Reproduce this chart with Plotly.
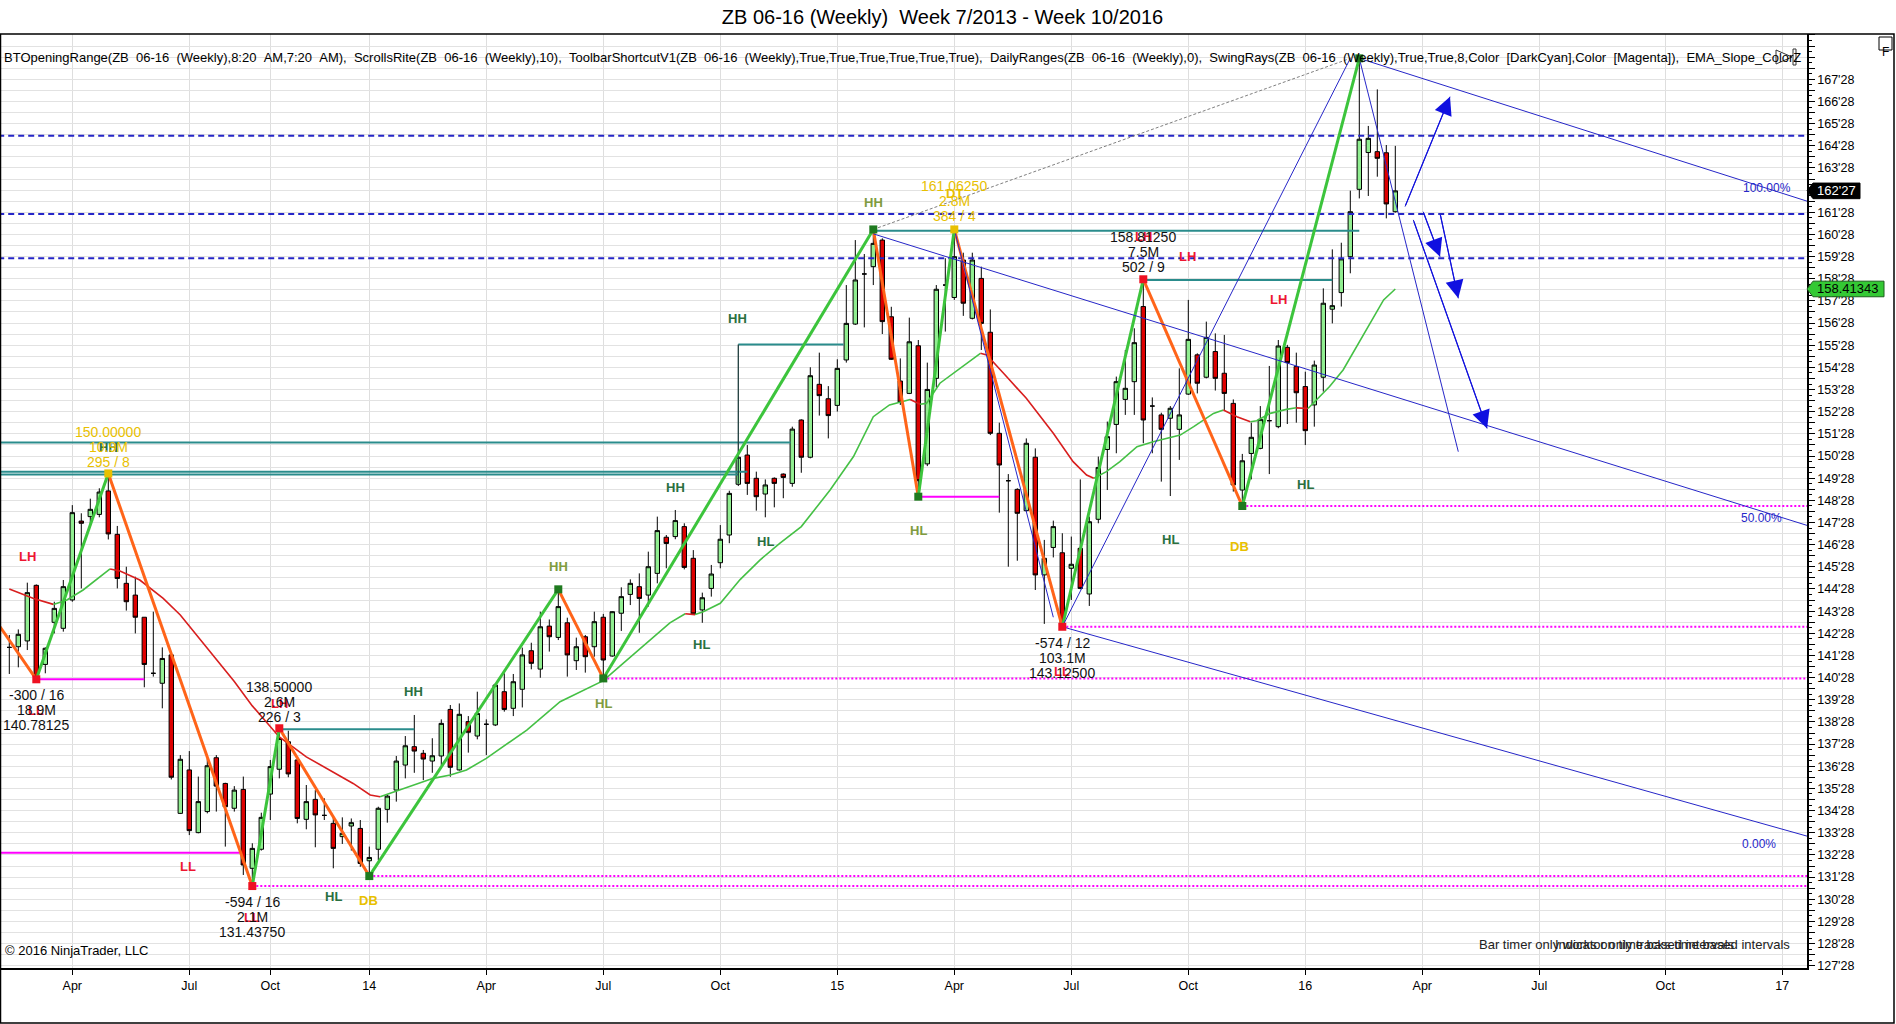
import plotly.graph_objects as go

FONT = "Arial, 'Liberation Sans', sans-serif"
W, H = 1896, 1024
PLOT_L, PLOT_R, PLOT_T, PLOT_B = 0, 1807, 34, 968
BAR_PX, FIRST_BAR_PX = 9.0, 9.3
X_RANGE = [(PLOT_L - FIRST_BAR_PX) / BAR_PX, (PLOT_R - FIRST_BAR_PX) / BAR_PX]
Y_RANGE = [127.772, 169.919]
PX_PER_PT = (PLOT_B - PLOT_T) / (Y_RANGE[1] - Y_RANGE[0])
LEFT_EDGE, RIGHT_EDGE = X_RANGE[0] - 0.2, X_RANGE[1] + 0.2

# ---- weekly bars, index 0 = first visible week ----
opens = [
    142.24, 142.27, 142.53, 145.04, 141.47, 143.37, 143.10, 144.38, 147.94, 148.14,
    148.24, 149.30, 147.34, 145.13, 144.60, 143.60, 141.07, 140.62, 141.90, 134.75,
    136.71, 133.88, 134.83, 137.26, 136.10, 134.98, 135.83, 132.27, 133.13, 135.62,
    136.74, 137.98, 137.16, 134.48, 135.38, 134.66, 134.30, 133.70, 134.18, 134.07,
    132.61, 133.13, 134.93, 135.80, 136.93, 137.76, 137.46, 137.11, 137.34, 139.44,
    136.71, 138.89, 138.24, 138.77, 138.74, 140.24, 139.49, 140.35, 142.09, 141.26,
    143.20, 142.69, 143.35, 141.64, 142.72, 142.27, 143.60, 141.85, 143.78, 144.63,
    144.98, 144.60, 145.58, 147.21, 147.24, 147.69, 146.26, 143.93, 144.90, 146.06,
    147.31, 149.60, 150.92, 149.87, 149.16, 149.87, 150.06, 149.64, 152.50, 150.82,
    154.11, 153.46, 153.16, 155.21, 156.83, 159.09, 159.42, 160.62, 157.16, 154.26,
    153.70, 155.85, 150.52, 154.38, 158.59, 158.03, 159.72, 157.09, 158.89, 156.46,
    151.90, 149.76, 149.37, 148.41, 150.82, 145.51, 146.75, 146.51, 145.81, 146.71,
    144.65, 148.02, 151.17, 152.30, 153.43, 154.23, 157.62, 153.13, 152.73, 152.58,
    152.08, 153.67, 155.44, 154.43, 155.59, 154.61, 153.25, 149.34, 150.99, 151.22,
    152.47, 152.20, 155.78, 154.91, 154.01, 153.18, 154.43, 157.50, 158.25, 159.87,
    162.91, 164.57, 164.61, 164.56, 161.90,
]
highs = [
    142.80, 143.05, 145.16, 145.08, 142.24, 144.30, 145.28, 148.66, 148.29, 148.95,
    149.42, 150.09, 147.72, 145.88, 145.43, 143.60, 143.85, 142.24, 141.90, 137.38,
    137.56, 136.41, 137.23, 137.38, 136.13, 135.98, 136.41, 133.40, 134.78, 137.16,
    138.59, 138.48, 137.19, 136.03, 135.80, 135.43, 134.60, 134.57, 134.52, 134.45,
    133.25, 135.05, 135.58, 137.34, 138.24, 139.19, 137.61, 138.14, 138.99, 139.64,
    139.71, 139.14, 140.24, 138.99, 140.62, 141.07, 141.04, 142.23, 142.45, 143.85,
    143.50, 144.86, 143.58, 142.68, 142.80, 143.85, 143.75, 143.87, 144.95, 145.31,
    145.58, 146.56, 148.14, 147.31, 148.44, 147.84, 146.63, 144.71, 145.96, 147.76,
    149.31, 150.85, 151.37, 150.17, 149.82, 149.91, 150.09, 152.20, 152.53, 154.88,
    155.54, 154.03, 155.24, 158.59, 160.62, 159.99, 161.10, 160.70, 157.61, 155.28,
    157.12, 156.11, 155.09, 158.59, 159.80, 161.10, 160.05, 160.05, 159.42, 157.49,
    152.38, 150.06, 149.42, 151.67, 151.22, 147.09, 147.96, 147.39, 147.24, 149.82,
    148.14, 150.85, 152.43, 154.46, 155.66, 156.64, 158.85, 153.52, 152.83, 153.13,
    154.83, 157.92, 155.51, 156.94, 156.41, 156.34, 153.43, 150.97, 152.38, 153.13,
    154.94, 156.11, 155.89, 155.54, 154.68, 155.18, 158.44, 160.20, 160.50, 162.85,
    168.82, 165.77, 167.42, 164.91, 164.87,
]
lows = [
    141.04, 141.34, 142.12, 140.80, 141.07, 142.87, 142.95, 144.30, 144.90, 147.72,
    148.11, 147.11, 144.90, 143.90, 142.87, 140.44, 140.92, 139.49, 136.28, 134.72,
    133.77, 133.85, 134.75, 134.83, 133.25, 134.83, 131.97, 131.47, 133.07, 134.45,
    136.33, 136.38, 134.30, 134.03, 133.22, 134.45, 132.27, 133.37, 133.07, 132.34,
    131.92, 132.64, 134.33, 135.28, 136.33, 136.58, 136.25, 136.58, 136.93, 136.40,
    136.68, 137.49, 138.09, 137.38, 138.69, 139.34, 139.14, 139.53, 141.25, 140.87,
    142.05, 142.57, 140.92, 141.22, 141.10, 141.82, 140.84, 141.82, 142.98, 144.15,
    142.90, 144.08, 145.13, 145.81, 147.12, 145.76, 143.70, 143.35, 144.53, 145.81,
    146.94, 149.52, 149.12, 148.41, 148.11, 148.56, 148.97, 149.49, 150.12, 150.77,
    152.70, 151.67, 152.88, 155.09, 156.79, 156.68, 158.59, 156.38, 155.21, 153.18,
    153.67, 149.04, 150.42, 153.97, 156.49, 157.92, 157.20, 157.04, 155.66, 151.82,
    148.32, 145.88, 146.15, 148.36, 144.83, 143.30, 146.30, 143.17, 144.38, 144.86,
    144.11, 147.84, 149.34, 151.00, 152.73, 152.73, 151.45, 151.00, 149.72, 149.07,
    150.70, 153.63, 153.70, 154.38, 153.83, 152.95, 149.27, 148.62, 149.82, 151.18,
    150.06, 152.13, 152.32, 152.38, 151.37, 152.20, 153.78, 156.86, 157.62, 159.12,
    162.50, 162.61, 163.48, 161.60, 161.86,
]
closes = [
    142.24, 142.83, 144.71, 140.92, 142.20, 144.00, 144.98, 148.32, 147.84, 148.47,
    149.25, 147.36, 145.35, 144.30, 143.60, 141.47, 141.07, 141.74, 136.38, 137.19,
    133.97, 135.28, 136.90, 135.98, 135.05, 135.80, 132.42, 133.17, 134.57, 136.86,
    138.13, 136.53, 134.52, 135.28, 134.68, 134.66, 133.17, 133.85, 134.33, 132.49,
    132.76, 134.98, 135.53, 137.11, 137.80, 137.56, 137.20, 137.35, 138.81, 136.83,
    139.22, 138.41, 139.26, 138.77, 140.54, 139.44, 140.69, 141.90, 141.52, 143.17,
    142.72, 144.08, 141.90, 142.27, 141.82, 143.40, 141.67, 143.85, 144.53, 145.13,
    144.45, 145.88, 147.51, 146.93, 147.96, 145.85, 143.75, 144.48, 145.55, 147.12,
    149.19, 150.82, 149.64, 149.04, 149.57, 149.64, 149.91, 152.09, 150.82, 154.50,
    153.60, 152.70, 154.83, 156.86, 158.82, 159.09, 160.47, 156.94, 155.24, 153.30,
    156.03, 149.76, 153.88, 158.40, 158.59, 159.87, 157.77, 159.72, 156.86, 151.90,
    150.47, 149.76, 148.29, 151.45, 145.51, 146.26, 147.69, 143.25, 145.99, 144.90,
    147.91, 150.36, 151.75, 154.23, 153.93, 155.99, 152.50, 153.13, 152.08, 153.03,
    152.73, 156.14, 154.16, 156.23, 154.38, 153.70, 149.57, 150.66, 151.72, 152.53,
    152.47, 155.84, 155.09, 153.73, 152.02, 154.98, 157.77, 157.66, 159.77, 161.90,
    165.17, 165.21, 164.31, 162.25, 162.84,
]

x_ticks = [7, 20, 29, 40, 53, 66, 79, 92, 105, 118, 131, 144, 157, 170, 184, 197]
x_tick_text = ["Apr", "Jul", "Oct", "14", "Apr", "Jul", "Oct", "15",
               "Apr", "Jul", "Oct", "16", "Apr", "Jul", "Oct", "17"]

# ---- slope coloured EMA (read at sample bars) ----
ema_i = [0, 2.7, 4.9, 6.4, 8.2, 10.1, 11.2, 12.3, 14.5, 17.1, 19, 21, 23, 25, 27, 30, 33, 36,
         38.2, 40.1, 41.2, 42.9, 44.9, 47.1, 49, 50.8, 53, 55.6, 57.5, 61.2, 64.1, 66, 68.2,
         71.2, 73.4, 75.1, 76.2, 77.1, 79, 81.2, 83.4, 85.6, 88, 91.2, 93.8, 96, 97.8, 100.1,
         101.2, 101.9, 103.4, 105.6, 107.9, 108.6, 110.8, 113, 116, 118.2, 119.7, 120.5, 121.9,
         123.4, 125.3, 127.1, 130.1, 131.6, 133.8, 134.9, 136.4, 137.9, 138.6, 140.1, 141.9,
         143, 144.3, 146.7, 148.2, 149.7, 151.2, 152.7, 154]
ema_p = [144.87, 144.45, 144.18, 144.38, 144.83, 145.43, 145.78, 145.69, 145.28, 144.45, 143.7,
         142.7, 141.7, 140.7, 139.6, 138.2, 137.3, 136.6, 136.1, 135.58, 135.5, 135.73, 136.03,
         136.33, 136.48, 136.71, 137.23, 137.98, 138.51, 139.79, 140.35, 140.74, 141.52, 142.57,
         143.35, 143.76, 143.72, 143.85, 144.23, 145.3, 146.18, 146.93, 147.69, 149.34, 150.85,
         152.65, 153.18, 153.43, 153.21, 153.25, 154.16, 154.83, 155.51, 155.43, 154.46, 153.48,
         151.9, 150.62, 150.02, 149.87, 150.17, 150.62, 151.3, 151.52, 151.82, 152.2, 152.8,
         152.95, 152.65, 152.42, 152.47, 152.8, 152.98, 153.05, 153.02, 154.01, 154.76, 155.81,
         156.86, 157.92, 158.41343]

# ---- swing points ----
swing_i = [-1.03, 3, 11, 27, 30, 40, 61, 66, 96, 101, 105, 117, 126, 137, 150]
swing_p = [143.17, 140.80, 150.09, 131.47, 138.59, 131.92, 144.86, 140.84, 161.10, 149.04,
           161.10, 143.17, 158.85, 148.62, 168.82]
swing_dot = [None, "red", "yellow", "red", "red", "green", "green", "green", "green", "green",
             "yellow", "red", "red", "green", "green"]

# ---- swing rays (start i, start p, end i, end p) ----
ray_i0 = [96, 150, 117, 117, 150, 105]
ray_p0 = [160.9, 168.82, 143.17, 143.17, 168.82, 161.10]
ray_i1 = [RIGHT_EDGE, RIGHT_EDGE, RIGHT_EDGE, 149, 161.0, 116.0]
ray_p1 = [147.72, 162.35, 133.7, 168.82, 151.07, 143.6]
dash_ray = [96, 161.10, 149, 168.82]

arrow_i0 = [155.08, 157.1, 158.97, 156.0]
arrow_p0 = [162.13, 161.9, 161.83, 161.53]
arrow_i1 = [160.08, 158.97, 161.0, 164.2]
arrow_p1 = [167.09, 159.87, 157.99, 152.12]

pct_text = ["100.00%", "50.00%", "0.00%"]
pct_i = [195.27, 194.69, 194.41]
pct_p = [162.96, 148.10, 133.37]

# ---- horizontal levels ----
teal_i0 = [LEFT_EDGE, LEFT_EDGE, LEFT_EDGE, 30, 81, 96, 126]
teal_i1 = [86.8, 82, 81, 45, 92.7, 150, 147]
teal_p = [151.49, 150.17, 150.04, 138.55, 155.91, 161.04, 158.82]
step_line = [81, 149.64, 155.91]

mag_i0 = [3, LEFT_EDGE, 101]
mag_i1 = [15, 25.6, 110]
mag_p = [140.80, 132.97, 149.04]
mag_dot_i0 = [27, 40, 66, 117, 137]
mag_dot_p = [131.47, 131.92, 140.84, 143.17, 148.62]

blue_dash_p = [165.33, 161.80, 159.80]

# ---- pivot tags ----
tag_text = ["LH", "LL", "HH", "LH", "LL", "LL", "HL", "DB", "HH", "HH", "HL", "HH", "HL", "HH",
            "HL", "HH", "DT", "HL", "LL", "LH", "LH", "LH", "HL", "HL", "DB"]
tag_i = [1.97, 3.0, 11.0, 30.0, 19.9, 27.0, 36.0, 39.9, 44.9, 61.0, 66.0, 74.0, 76.9, 80.9,
         84.0, 96.0, 105.0, 101.0, 117.0, 126.0, 130.9, 141.0, 144.0, 129.0, 136.7]
tag_p = [146.32, 139.37, 151.24, 139.73, 132.37, 130.07, 130.98, 130.80, 140.24, 145.88,
         139.72, 149.45, 142.35, 157.09, 147.01, 162.32, 162.70, 147.50, 141.15, 160.77,
         159.90, 157.92, 149.57, 147.09, 146.78]
tag_col = ["red", "red", "green", "red", "red", "red", "green", "yellow", "green", "pale",
           "pale", "green", "green", "green", "green", "pale", "yellow", "pale", "red", "red",
           "red", "red", "green", "green", "yellow"]

# ---- swing info stacks ----
stack_i = [3, 11, 30, 27, 105, 117, 126]
stack_top_p = [140.09, 151.96, 140.45, 130.75, 163.06, 142.42, 160.77]
stack_lines = [
    ["-300 / 16", "18.9M", "140.78125"],
    ["150.00000", "10.9M", "295 / 8"],
    ["138.50000", "2.6M", "226 / 3"],
    ["-594 / 16", "2.1M", "131.43750"],
    ["161.06250", "2.8M", "384 / 4"],
    ["-574 / 12", "103.1M", "143.12500"],
    ["158.81250", "7.5M", "502 / 9"],
]
stack_col = ["black", "yellow", "black", "black", "yellow", "black", "black"]

COLORS = {
    "red": "#ee1530", "green": "#2a7040", "yellow": "#e8c000", "pale": "#809c40",
    "black": "#111111",
}
UP_FILL, DOWN_FILL = "#90ee90", "#dd0000"
SWING_UP, SWING_DOWN = "#3cc43c", "#ff6419"
EMA_UP, EMA_DOWN = "#45c045", "#d81e1e"
BLUE = "#2626c8"
TEAL = "#2a8c8c"
MAGENTA = "#ff00ff"

indicator_line = (
    "BTOpeningRange(ZB  06-16  (Weekly),8:20  AM,7:20  AM),  ScrollsRite(ZB  06-16  (Weekly),10),  "
    "ToolbarShortcutV1(ZB  06-16  (Weekly),True,True,True,True,True,True),  "
    "DailyRanges(ZB  06-16  (Weekly),0),  SwingRays(ZB  06-16  (Weekly),True,True,8,Color  [DarkCyan],"
    "Color  [Magenta]),  EMA_Slope_ColorZ"
)


def px_x(px):
    return (px - PLOT_L) / (PLOT_R - PLOT_L)


def px_y(py):
    return (PLOT_B - py) / (PLOT_B - PLOT_T)


def _segments(fig, pairs, color, width, dash="solid"):
    xs, ys = [], []
    for x0, y0, x1, y1 in pairs:
        xs += [x0, x1, None]
        ys += [y0, y1, None]
    fig.add_trace(go.Scatter(x=xs, y=ys, mode="lines", hoverinfo="skip",
                             line={"color": color, "width": width, "dash": dash}))


fig = go.Figure()

# levels under the bars
_segments(fig, [(LEFT_EDGE, p, RIGHT_EDGE, p) for p in blue_dash_p], BLUE, 2, "6px,4px")
_segments(fig, list(zip(teal_i0, teal_p, teal_i1, teal_p)), TEAL, 2)
_segments(fig, [(step_line[0], step_line[1], step_line[0], step_line[2])], "#1e3c3c", 1.3)
_segments(fig, list(zip(mag_i0, mag_p, mag_i1, mag_p)), MAGENTA, 2)
_segments(fig, [(i0, p, RIGHT_EDGE, p) for i0, p in zip(mag_dot_i0, mag_dot_p)], MAGENTA, 2, "2px,2px")

# slope coloured EMA
run_x, run_y, run_col = [ema_i[0]], [ema_p[0]], None
for k in range(1, len(ema_i)):
    col = EMA_UP if ema_p[k] >= ema_p[k - 1] else EMA_DOWN
    if run_col is not None and col != run_col:
        fig.add_trace(go.Scatter(x=run_x, y=run_y, mode="lines", hoverinfo="skip",
                                 line={"color": run_col, "width": 1.6}))
        run_x, run_y = [ema_i[k - 1]], [ema_p[k - 1]]
    run_col = col
    run_x.append(ema_i[k])
    run_y.append(ema_p[k])
fig.add_trace(go.Scatter(x=run_x, y=run_y, mode="lines", hoverinfo="skip",
                         line={"color": run_col, "width": 1.6}))

fig.add_trace(go.Candlestick(
    x=list(range(len(opens))), open=opens, high=highs, low=lows, close=closes,
    increasing={"line": {"color": "black", "width": 1}, "fillcolor": UP_FILL},
    decreasing={"line": {"color": "black", "width": 1}, "fillcolor": DOWN_FILL},
    whiskerwidth=0, hoverinfo="skip",
))

# swing legs, rays
legs_up, legs_down = [], []
for k in range(len(swing_i) - 1):
    seg = (swing_i[k], swing_p[k], swing_i[k + 1], swing_p[k + 1])
    (legs_up if swing_p[k + 1] > swing_p[k] else legs_down).append(seg)
_segments(fig, legs_down, SWING_DOWN, 3)
_segments(fig, legs_up, SWING_UP, 3)
_segments(fig, [tuple(dash_ray)], "#808080", 1, "3px,2px")
_segments(fig, list(zip(ray_i0, ray_p0, ray_i1, ray_p1)), BLUE, 1)
_segments(fig, list(zip(arrow_i0, arrow_p0, arrow_i1, arrow_p1)), BLUE, 1)

dot_idx = [k for k, c in enumerate(swing_dot) if c]
fig.add_trace(go.Scatter(
    x=[swing_i[k] for k in dot_idx], y=[swing_p[k] for k in dot_idx], mode="markers",
    hoverinfo="skip",
    marker={"size": 8, "symbol": "square",
            "color": [{"green": "#1f7a1f", "red": "#ee1122", "yellow": "#e8c000"}[swing_dot[k]] for k in dot_idx],
            "line": {"width": 0}},
))

annotations = []
for t, i, p, c in zip(tag_text, tag_i, tag_p, tag_col):
    annotations.append(dict(x=i, y=p, text=f"<b>{t}</b>", showarrow=False,
                            font={"family": FONT, "size": 13, "color": COLORS[c]}))
line_step = 15 / PX_PER_PT
for i, p0, lines, c in zip(stack_i, stack_top_p, stack_lines, stack_col):
    for n, t in enumerate(lines):
        annotations.append(dict(x=i, y=p0 - n * line_step, text=t, showarrow=False,
                                font={"family": FONT, "size": 14, "color": COLORS[c]}))
for t, i, p in zip(pct_text, pct_i, pct_p):
    annotations.append(dict(x=i, y=p, text=t, showarrow=False,
                            font={"family": FONT, "size": 12, "color": BLUE}))
for i0, p0, i1, p1 in zip(arrow_i0, arrow_p0, arrow_i1, arrow_p1):
    annotations.append(dict(x=i1, y=p1, ax=i0, ay=p0, axref="x", ayref="y", text="",
                            showarrow=True, arrowhead=2, arrowsize=3, arrowwidth=1.2,
                            arrowcolor="#1010e0", standoff=0))

# price tags on the axis
last_close = closes[-1]
close_txt = f"{int(last_close)}'{round((last_close % 1) * 32):02d}"
ema_last = ema_p[-1]
half = 7.8 / PX_PER_PT
shapes = [
    dict(type="path", xref="paper", yref="y", layer="above",
         path=(f"M 1,{last_close} L {px_x(1813)},{last_close + half} L {px_x(1860)},{last_close + half} "
               f"L {px_x(1860)},{last_close - half} L {px_x(1813)},{last_close - half} Z"),
         fillcolor="black", line={"color": "black", "width": 1}),
    dict(type="path", xref="paper", yref="y", layer="above",
         path=(f"M 1,{ema_last} L {px_x(1813)},{ema_last + half} L {px_x(1884)},{ema_last + half} "
               f"L {px_x(1884)},{ema_last - half} L {px_x(1813)},{ema_last - half} Z"),
         fillcolor="#34c934", line={"color": "#1d5e1d", "width": 1}),
    # outer frame
    dict(type="rect", xref="paper", yref="paper", x0=px_x(0.5), x1=px_x(1894), y0=px_y(1023),
         y1=px_y(34), line={"color": "black", "width": 1.5}, layer="above"),
    # scroll-to-end icon and F box
    dict(type="path", xref="paper", yref="paper", layer="above",
         path=f"M {px_x(1776)},{px_y(50)} L {px_x(1792)},{px_y(57)} L {px_x(1776)},{px_y(64)} Z",
         fillcolor="white", line={"color": "#333333", "width": 1}),
    dict(type="rect", xref="paper", yref="paper", x0=px_x(1793), x1=px_x(1796), y0=px_y(65),
         y1=px_y(49), fillcolor="white", line={"color": "#333333", "width": 1}, layer="above"),
    dict(type="rect", xref="paper", yref="paper", x0=px_x(1879), x1=px_x(1892), y0=px_y(50),
         y1=px_y(37), fillcolor="white", line={"color": "black", "width": 1}, layer="above"),
]
annotations += [
    dict(xref="paper", yref="y", x=px_x(1837), y=last_close, text=close_txt, showarrow=False,
         xanchor="center", font={"family": FONT, "size": 13, "color": "white"}),
    dict(xref="paper", yref="y", x=px_x(1847), y=ema_last, text=f"{ema_last:.5f}", showarrow=False,
         xanchor="center", font={"family": FONT, "size": 13, "color": "black"}),
    dict(xref="paper", yref="paper", x=px_x(1885.5), y=px_y(43.5), text="F", showarrow=False,
         xanchor="center", font={"family": FONT, "size": 12, "color": "black"}),
    dict(xref="paper", yref="paper", x=px_x(2), y=px_y(48), xanchor="left",
         text=indicator_line.replace("  ", "\u00a0\u00a0"), showarrow=False,
         font={"family": FONT, "size": 13, "color": "black"}),
    dict(xref="paper", yref="paper", x=px_x(3), y=px_y(960), xanchor="left",
         text="\u00a9 2016 NinjaTrader, LLC", showarrow=False,
         font={"family": FONT, "size": 13, "color": "black"}),
    dict(xref="paper", yref="paper", x=px_x(1477), y=px_y(954), xanchor="left",
         text="Bar timer only works on time based intervals", showarrow=False,
         font={"family": FONT, "size": 13, "color": "#222222"}),
    dict(xref="paper", yref="paper", x=px_x(1792), y=px_y(954), xanchor="right",
         text="Indicator only tracks time based intervals", showarrow=False,
         font={"family": FONT, "size": 13, "color": "#222222"}),
]

y_tickvals = [127.875 + 0.5 * k for k in range(85)]
y_ticktext = [f"{int(v)}'28" if (v % 1 == 0.875 and v < 168) else "" for v in y_tickvals]

fig.update_layout(
    width=W, height=H,
    margin={"l": PLOT_L, "r": W - PLOT_R, "t": PLOT_T, "b": H - PLOT_B},
    paper_bgcolor="white", plot_bgcolor="white",
    showlegend=False,
    font={"family": FONT, "size": 13, "color": "black"},
    title={"text": "ZB 06-16 (Weekly)\u00a0\u00a0Week 7/2013 - Week 10/2016",
           "x": 942.5 / W, "y": 1 - 17 / H, "xanchor": "center", "yanchor": "middle",
           "xref": "container", "yref": "container",
           "font": {"family": FONT, "size": 20, "color": "black"}},
    xaxis={"range": X_RANGE, "tickvals": x_ticks, "ticktext": x_tick_text, "ticks": "outside",
           "ticklen": 5, "tickcolor": "black", "showgrid": True, "gridcolor": "#dedede",
           "showline": True, "linecolor": "black", "linewidth": 1.5, "zeroline": False,
           "rangeslider": {"visible": False}, "tickfont": {"size": 12.5}, "fixedrange": True},
    yaxis={"range": Y_RANGE, "side": "right", "tickvals": y_tickvals, "ticktext": y_ticktext,
           "ticks": "outside", "ticklen": 6, "tickcolor": "black", "showgrid": True,
           "gridcolor": "#e2e2e2", "showline": True, "linecolor": "black", "linewidth": 1.5,
           "zeroline": False, "tickfont": {"size": 12.5},
           "minor": {"dtick": 0.25, "tick0": 127.875, "ticks": "outside", "ticklen": 3,
                     "tickcolor": "black", "showgrid": False}},
    shapes=shapes,
    annotations=annotations,
)

fig.write_html("out.html", config={"displayModeBar": False},
               post_script="document.body.style.margin='0px';")
